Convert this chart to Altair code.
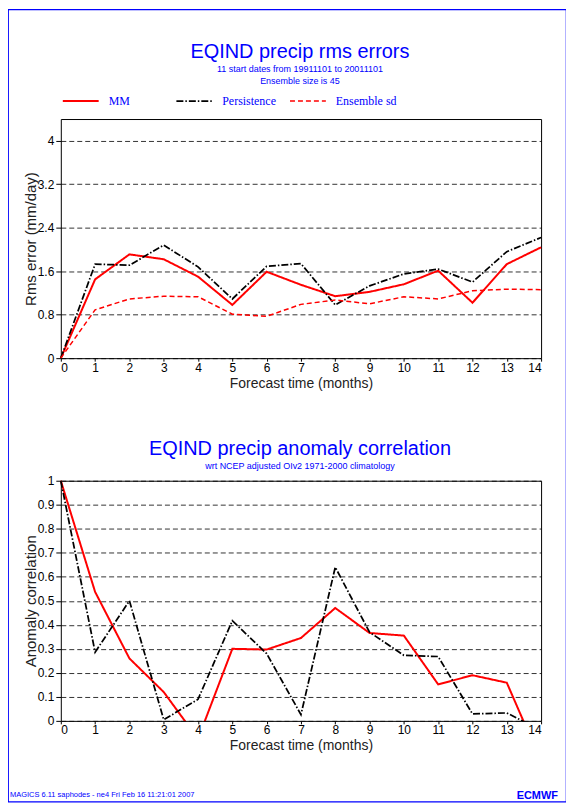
import altair as alt
import pandas as pd

# ---------------- data ----------------
months = list(range(15))
series_names = ["MM", "Persistence", "Ensemble sd"]

rms_mm = [0, 1.45, 1.91, 1.82, 1.50, 0.98, 1.59, 1.35, 1.14, 1.22, 1.36, 1.61, 1.02, 1.73, 2.04]
rms_persistence = [0, 1.73, 1.71, 2.08, 1.68, 1.09, 1.69, 1.74, 0.98, 1.33, 1.55, 1.64, 1.40, 1.96, 2.22]
rms_ens_sd = [0, 0.89, 1.09, 1.14, 1.13, 0.81, 0.77, 0.99, 1.07, 1.00, 1.13, 1.09, 1.24, 1.27, 1.26]

acc_mm = [1.0, 0.537, 0.26, 0.12, -0.075, 0.30, 0.297, 0.345, 0.47, 0.366, 0.355, 0.152, 0.19, 0.159, -0.17]
acc_persistence = [1.0, 0.286, 0.50, 0.005, 0.09, 0.417, 0.28, 0.026, 0.64, 0.369, 0.273, 0.268, 0.029, 0.033, -0.04]

rms_ticks = [0, 0.8, 1.6, 2.4, 3.2, 4]
acc_ticks = [0, 0.1, 0.2, 0.3, 0.4, 0.5, 0.6, 0.7, 0.8, 0.9, 1]

rms_df = pd.DataFrame({
    "month": months * 3,
    "value": rms_mm + rms_persistence + rms_ens_sd,
    "series": ["MM"] * 15 + ["Persistence"] * 15 + ["Ensemble sd"] * 15,
})
acc_df = pd.DataFrame({
    "month": months * 2,
    "value": acc_mm + acc_persistence,
    "series": ["MM"] * 15 + ["Persistence"] * 15,
})
dummy = pd.DataFrame({"k": [0]})

# ---------------- styles ----------------
series_colors = ["#ff0000", "#000000", "#ff0000"]
series_dash = [[1, 0], [7, 2, 1.5, 2], [5, 3]]
series_width = [2, 1.5, 1.5]
BLUE = "#0000ff"
FONT = "Liberation Sans"

W, H = 560, 795
X_RANGE = [53, 535]
TOP_RANGE = [350, 110]
BOT_RANGE = [714, 473]

x_scale = alt.Scale(domain=[0, 14], range=X_RANGE, nice=False, zero=False)
top_y_scale = alt.Scale(domain=[0, 4.4], range=TOP_RANGE, nice=False, zero=False)
bot_y_scale = alt.Scale(domain=[0, 1], range=BOT_RANGE, nice=False, zero=False)

color_scale = alt.Scale(domain=series_names, range=series_colors)
dash_scale = alt.Scale(domain=series_names, range=series_dash)
width_scale = alt.Scale(domain=series_names, range=series_width)

common = dict(labelFont=FONT, labelFontSize=12, labelColor="black",
              titleFont=FONT, titleColor="#222222", titleFontWeight="normal",
              domainColor="black", tickColor="black", domainWidth=1,
              labelOverlap=False)


def x_axis(offset):
    return alt.Axis(orient="bottom", offset=offset, values=months, format="d",
                    tickSize=3, labelPadding=1, title="Forecast time (months)",
                    titleFontSize=14, titlePadding=3, grid=False, zindex=1, **common)


def y_axis(values, title, title_y):
    return alt.Axis(orient="left", offset=-53, values=values,
                    labelExpr="'' + datum.value",
                    tickSize=6, tickDash=[5, 3], labelPadding=1,
                    grid=True, gridDash=[5, 3], gridColor="black", gridWidth=0.8,
                    title=title, titleFontSize=15, titleX=-30, titleY=title_y,
                    titleAngle=270, titleAlign="center", titleBaseline="middle", **common)


def box_x(offset):
    return alt.Axis(orient="top", offset=offset, labels=False, ticks=False,
                    grid=False, title=None, domainColor="black", domainWidth=1)


def box_y():
    return alt.Axis(orient="right", offset=-25, labels=False, ticks=False,
                    grid=False, title=None, domainColor="black", domainWidth=1)


legend = alt.Legend(orient="none", legendX=54, legendY=73, direction="horizontal",
                    columns=3, gridAlign="all", symbolType="stroke", symbolSize=1296,
                    symbolStrokeWidth=2, labelFont="Liberation Serif", labelFontSize=12,
                    labelColor=BLUE, labelOffset=9, columnPadding=3, title=None, padding=0)

# ---------------- layers ----------------
top_box = alt.Chart(rms_df).mark_point(opacity=0, size=0).encode(
    x=alt.X("month:Q", scale=x_scale, axis=box_x(-110)),
    y=alt.Y("value:Q", scale=top_y_scale, axis=box_y()),
)
bot_box = alt.Chart(acc_df).mark_point(opacity=0, size=0).encode(
    x=alt.X("month:Q", scale=x_scale, axis=box_x(-473)),
    y=alt.Y("value:Q", scale=bot_y_scale, axis=box_y()),
)

top_lines = alt.Chart(rms_df).mark_line().encode(
    x=alt.X("month:Q", scale=x_scale, axis=x_axis(TOP_RANGE[0] - H)),
    y=alt.Y("value:Q", scale=top_y_scale,
            axis=y_axis(rms_ticks, "Rms error (mm/day)", (TOP_RANGE[0] + TOP_RANGE[1]) / 2)),
    color=alt.Color("series:N", scale=color_scale, legend=legend),
    strokeDash=alt.StrokeDash("series:N", scale=dash_scale, legend=legend),
    strokeWidth=alt.StrokeWidth("series:N", scale=width_scale, legend=None),
    order=alt.Order("month:Q"),
)

bot_lines = alt.Chart(acc_df).mark_line().encode(
    x=alt.X("month:Q", scale=x_scale, axis=x_axis(BOT_RANGE[0] - H)),
    y=alt.Y("value:Q", scale=bot_y_scale,
            axis=y_axis(acc_ticks, "Anomaly correlation", (BOT_RANGE[0] + BOT_RANGE[1]) / 2)),
    color=alt.Color("series:N", scale=color_scale, legend=None),
    strokeDash=alt.StrokeDash("series:N", scale=dash_scale, legend=None),
    strokeWidth=alt.StrokeWidth("series:N", scale=width_scale, legend=None),
    order=alt.Order("month:Q"),
)

# white mask below the lower panel (values below 0 are cut off in the reference)
mask = alt.Chart(dummy).mark_rect(color="white").encode(
    x=alt.value(53.5), x2=alt.value(537), y=alt.value(715), y2=alt.value(760)
)


def label(text, x, y, size, align="center", weight="normal", font=FONT):
    return alt.Chart(dummy).mark_text(
        font=font, fontSize=size, color=BLUE, align=align, baseline="alphabetic",
        fontWeight=weight
    ).encode(x=alt.value(x), y=alt.value(y), text=alt.value(text))


texts = [
    label("EQIND precip rms errors", 293, 49, 20),
    label("11 start dates from 19911101 to 20011101", 293, 63, 9),
    label("Ensemble size is 45", 293, 75, 9),
    label("EQIND precip anomaly correlation", 293, 447, 20),
    label("wrt NCEP adjusted OIv2 1971-2000 climatology", 293, 461, 9),
    label("MAGICS 6.11 saphodes - ne4 Fri Feb 16 11:21:01 2007", 2, 790, 7.5, align="left"),
    label("ECMWF", 552, 792, 11, align="right", weight="bold"),
]

chart = alt.layer(top_box, bot_box, top_lines, bot_lines, mask, *texts).resolve_scale(
    y="independent"
).resolve_axis(
    x="independent", y="independent"
).properties(
    width=W, height=H, padding=0, background="white"
).configure_view(
    stroke=BLUE, strokeWidth=1.2
)

chart.save("out.html", embed_options={"renderer": "svg", "actions": False})
